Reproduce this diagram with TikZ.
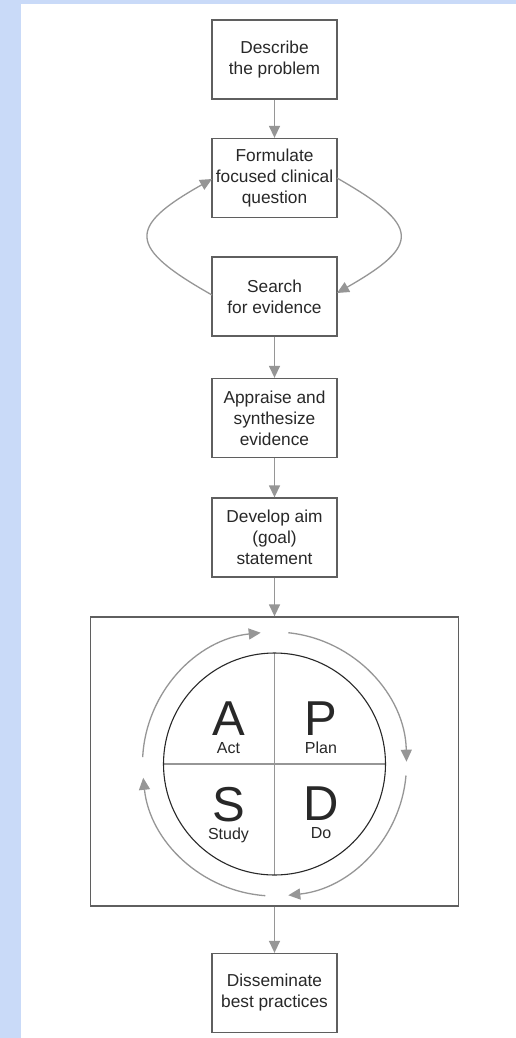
\documentclass[tikz,border=0pt]{standalone}
\usepackage{fontspec}
\setmainfont{Liberation Sans}
\usetikzlibrary{arrows.meta}
\definecolor{bgblue}{RGB}{201,218,248}
\definecolor{boxline}{RGB}{95,95,95}
\definecolor{conn}{RGB}{150,150,150}
\definecolor{txt}{RGB}{40,40,40}
\tikzset{
  stepbox/.style={draw=boxline, line width=1.3pt, fill=white, minimum width=125pt, minimum height=79pt, inner sep=0pt, align=center, text=txt, font=\fontsize{17.3}{21}\selectfont},
  conn/.style={draw=conn, line width=1.4pt, -{Triangle[length=12pt,width=11pt]}},
  cyc/.style={draw=conn, line width=1.3pt, -{Triangle[length=12pt,width=11pt]}},
  quad/.style={text=txt, inner sep=0pt, align=center, font=\fontsize{16}{18}\selectfont}
}
\newcommand{\pdsaq}[2]{{\fontsize{49}{49}\selectfont #1}\\#2}
\begin{document}
\begin{tikzpicture}[x=1pt,y=1pt]
\useasboundingbox (0,0) rectangle (516,-1038);
\fill[bgblue] (0,0) rectangle (516,-1038);
\fill[white] (21,-4.5) rectangle (516,-1038);

\node[stepbox] (describe) at (274.5,-59.5) {Describe\\the problem};
\node[stepbox] (formulate) at (274.5,-178) {Formulate\\focused clinical\\question};
\node[stepbox] (search) at (274.5,-296.5) {Search\\for evidence};
\node[stepbox] (appraise) at (274.5,-418) {Appraise and\\synthesize\\evidence};
\node[stepbox] (develop) at (274.5,-537.5) {Develop aim\\(goal)\\statement};
\node[draw=boxline, line width=1.3pt, minimum width=368pt, minimum height=289pt, inner sep=0pt] (pdsa) at (274.5,-761.5) {};
\node[stepbox] (dissem) at (274.5,-993) {Disseminate\\best practices};

\draw[conn] (describe.south) -- (formulate.north);
\draw[conn] (search.south) -- (appraise.north);
\draw[conn] (appraise.south) -- (develop.north);
\draw[conn] (develop.south) -- (pdsa.north);
\draw[conn] (pdsa.south) -- (dissem.north);

% loop between formulate and search
\coordinate (sl) at (212,-295);
\coordinate (fl) at (212,-179);
\coordinate (fr) at (337,-178);
\coordinate (sr) at (337,-293);
\draw[cyc] (sl) .. controls (127,-247) and (127,-227) .. (fl);
\draw[cyc] (fr) .. controls (421,-226) and (421,-245) .. (sr);

% PDSA circle
\coordinate (c) at (274.5,-764);
\draw[conn, -] (c) ++(0,111) -- ++(0,-222);
\draw[conn, -] (c) ++(-111,0) -- ++(222,0);
\draw[draw=txt, line width=1.1pt] (c) circle[radius=111];

\draw[cyc] ([shift={(177:132)}]c) arc[start angle=177, end angle=96, radius=132];
\draw[cyc] ([shift={(84:132)}]c) arc[start angle=84, end angle=1, radius=132];
\draw[cyc] ([shift={(-5:132)}]c) arc[start angle=-5, end angle=-84, radius=132];
\draw[cyc] ([shift={(-94:132)}]c) arc[start angle=-94, end angle=-174, radius=132];

\node[quad, anchor=north] (qa) at (228.5,-702) {\pdsaq{A}{Act}};
\node[quad, anchor=north] (qp) at (321,-702) {\pdsaq{P}{Plan}};
\node[quad, anchor=north] (qs) at (228.5,-787) {\pdsaq{S}{Study}};
\node[quad, anchor=north] (qd) at (321,-787) {\pdsaq{D}{Do}};
\end{tikzpicture}
\end{document}
